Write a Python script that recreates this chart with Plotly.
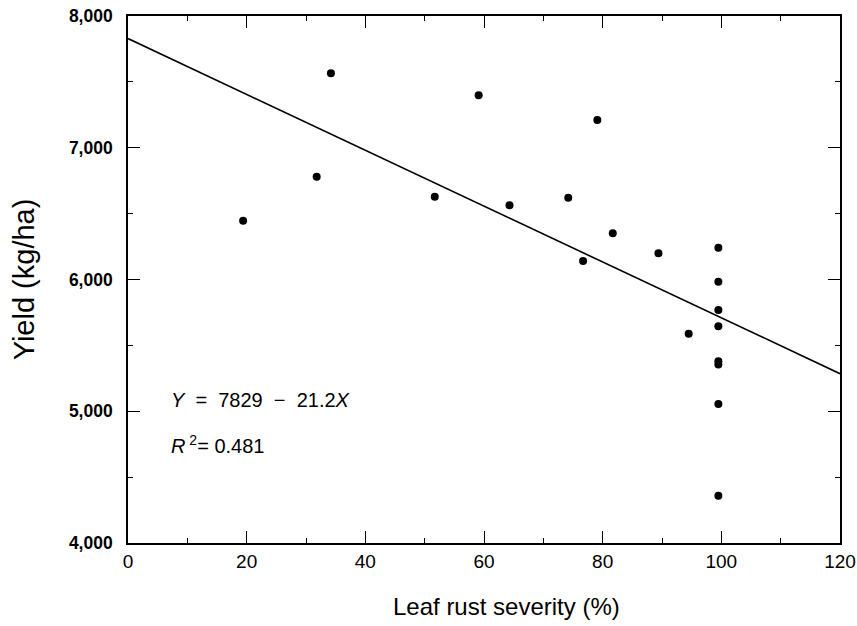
import plotly.graph_objects as go

# Data
severity = [19.4, 31.8, 34.2, 51.7, 59.1, 64.3, 74.2, 76.7, 79.1, 81.7, 89.4, 94.5,
            99.5, 99.5, 99.5, 99.5, 99.5, 99.5, 99.5, 99.5]
yield_kg = [6446, 6780, 7565, 6628, 7398, 6563, 6621, 6140, 7211, 6351, 6199, 5589,
            6241, 5983, 5769, 5645, 5380, 5355, 5055, 4359]

intercept = 7829
slope = -21.2
line_x = [0, 120]
line_y = [intercept + slope * v for v in line_x]

x_ticks = [0, 20, 40, 60, 80, 100, 120]
y_ticks = [4000, 5000, 6000, 7000, 8000]
y_ticktext = ["4,000", "5,000", "6,000", "7,000", "8,000"]

FONT = "Liberation Sans, Arial, sans-serif"

fig = go.Figure()
fig.add_trace(go.Scatter(x=line_x, y=line_y, mode="lines",
                         line=dict(color="black", width=1.6), showlegend=False))
fig.add_trace(go.Scatter(x=severity, y=yield_kg, mode="markers",
                         marker=dict(color="black", size=8), showlegend=False))

fig.update_layout(
    width=857, height=626,
    margin=dict(l=128, r=17, t=16, b=83),
    paper_bgcolor="white", plot_bgcolor="white",
    font=dict(family=FONT, color="black"),
    xaxis=dict(range=[0, 120], tickvals=x_ticks, ticks="inside", ticklen=12,
               tickwidth=1.2, tickcolor="black", showline=True, linecolor="black",
               linewidth=1.6, mirror="ticks", showgrid=False, zeroline=False,
               automargin=False,
               tickfont=dict(size=19, family=FONT), ticklabelstandoff=0,
               minor=dict(dtick=10, ticks="inside", ticklen=5, tickcolor="black",
                          tickwidth=1.2, showgrid=False)),
    yaxis=dict(range=[4000, 8000], tickvals=y_ticks, ticktext=y_ticktext,
               ticks="inside", ticklen=12, tickwidth=1.2, tickcolor="black",
               showline=True, linecolor="black", linewidth=1.6, mirror="ticks",
               showgrid=False, zeroline=False, automargin=False,
               tickfont=dict(size=17.5, family=FONT, weight="bold"), ticklabelstandoff=10,
               minor=dict(dtick=500, ticks="inside", ticklen=5, tickcolor="black",
                          tickwidth=1.2, showgrid=False),
               title=dict(text="Yield (kg/ha)", font=dict(size=29, family=FONT),
                          standoff=26)),
    annotations=[
        dict(xref="paper", yref="paper", x=0.531, y=-0.121, xanchor="center",
             yanchor="middle", showarrow=False, font=dict(size=24, family=FONT),
             text="Leaf rust severity (%)"),
        dict(xref="paper", yref="paper", x=0.058, y=0.272, xanchor="left", yanchor="middle",
             showarrow=False, font=dict(size=20, family=FONT),
             text="<i>Y</i>  =  7829  −  21.2<i>X</i>"),
        dict(xref="paper", yref="paper", x=0.058, y=0.186, xanchor="left", yanchor="middle",
             showarrow=False, font=dict(size=20, family=FONT),
             text="<i>R</i><sup> 2</sup>= 0.481"),
    ],
)

fig.write_html("out.html",
               config={"displayModeBar": False},
               post_script="document.body.style.margin='0';"
                           "document.documentElement.style.overflow='hidden';")
